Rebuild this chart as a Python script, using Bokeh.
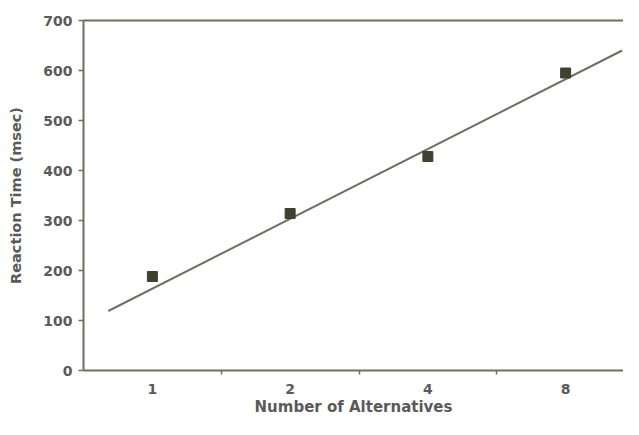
from bokeh.plotting import figure
from bokeh.models import FixedTicker, Range1d, ColumnDataSource, LinearAxis
from bokeh.embed import file_html
from bokeh.resources import INLINE

# ---- data ----
categories = ["1", "2", "4", "8"]           # number of alternatives
reaction_ms = [188, 314, 428, 595]          # mean reaction time (msec)
trend_pos = [0.68, 4.41]                    # fitted line, category-index units
trend_ms = [119, 640]                       # fitted line values (msec)
y_ticks = [0, 100, 200, 300, 400, 500, 600, 700]

xs = list(range(1, len(categories) + 1))
boundaries = [x + 0.5 for x in xs[:-1]]

FONT = "DejaVu Sans"
TEXT = "#5a5a5a"
LINE = "#6f6f60"

p = figure(width=623, height=419, output_backend="svg", toolbar_location=None,
           x_range=Range1d(0.5, 4.42), y_range=Range1d(y_ticks[0], y_ticks[-1]),
           min_border_left=83, min_border_right=0, min_border_top=20,
           min_border_bottom=49)
p.outline_line_color = None
p.background_fill_color = "white"
p.border_fill_color = "white"
p.grid.visible = False

xa = p.below[0]
ya = p.left[0]

# top border line
top = LinearAxis(ticker=FixedTicker(ticks=[]), axis_line_color=LINE,
                 axis_line_width=2, major_tick_out=0, major_tick_in=0,
                 minor_tick_out=0, minor_tick_in=0,
                 major_label_text_font_size="0px", major_label_standoff=0)
p.add_layout(top, "above")

# x axis
xa.ticker = FixedTicker(ticks=xs, minor_ticks=boundaries)
xa.major_label_overrides = {x: c for x, c in zip(xs, categories)}
xa.major_tick_out = 0
xa.major_tick_in = 0
xa.minor_tick_out = 4
xa.minor_tick_in = 0
xa.minor_tick_line_color = LINE
xa.minor_tick_line_width = 1.5
xa.axis_line_color = LINE
xa.axis_line_width = 2
xa.major_label_standoff = 9
xa.major_label_text_font = FONT
xa.major_label_text_font_style = "bold"
xa.major_label_text_font_size = "14px"
xa.major_label_text_color = TEXT
xa.axis_label = "Number of Alternatives"
xa.axis_label_standoff = 1
xa.axis_label_text_font = FONT
xa.axis_label_text_font_style = "bold"
xa.axis_label_text_font_size = "15px"
xa.axis_label_text_color = TEXT

# y axis
ya.ticker = FixedTicker(ticks=y_ticks)
ya.minor_tick_line_color = None
ya.major_tick_out = 5
ya.major_tick_in = 0
ya.major_tick_line_color = LINE
ya.major_tick_line_width = 1.5
ya.axis_line_color = LINE
ya.axis_line_width = 2
ya.major_label_standoff = 6
ya.major_label_text_font = FONT
ya.major_label_text_font_style = "bold"
ya.major_label_text_font_size = "14px"
ya.major_label_text_color = TEXT
ya.axis_label = "Reaction Time (msec)"
ya.axis_label_standoff = 16
ya.axis_label_text_font = FONT
ya.axis_label_text_font_style = "bold"
ya.axis_label_text_font_size = "14.5px"
ya.axis_label_text_color = TEXT

# trend line
p.line(trend_pos, trend_ms, line_color=LINE, line_width=2)

# data points
src = ColumnDataSource(dict(x=xs, y=reaction_ms))
p.scatter("x", "y", source=src, marker="square", size=10,
          fill_color="#3c4330", line_color="#3c4330")

open("out.html", "w").write(file_html(p, INLINE))
